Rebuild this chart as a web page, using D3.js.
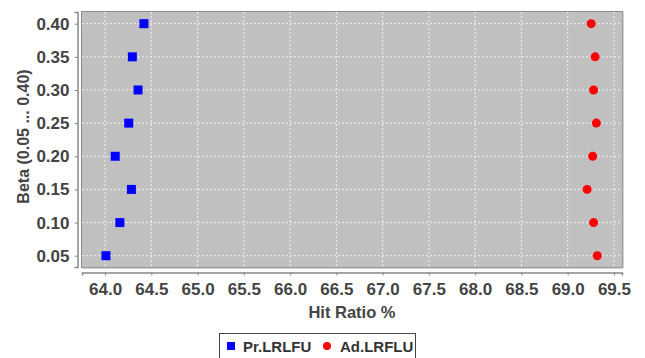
<!DOCTYPE html>
<html><head><meta charset="utf-8">
<script src="https://cdn.jsdelivr.net/npm/d3@7"></script>
<style>
body{margin:0;background:#fff;}
svg{display:block;font-family:"Liberation Sans",Arial,sans-serif;}
</style></head><body>
<svg id="c" width="645" height="358"></svg>
<script>
const betas = [0.40, 0.35, 0.30, 0.25, 0.20, 0.15, 0.10, 0.05];
const prLRLFU = [64.42, 64.295, 64.357, 64.256, 64.11, 64.285, 64.16, 64.01];
const adLRFLU = [69.254, 69.297, 69.28, 69.31, 69.27, 69.21, 69.28, 69.32];
const xTicks = [64.0,64.5,65.0,65.5,66.0,66.5,67.0,67.5,68.0,68.5,69.0,69.5];
const yTicks = [0.05,0.10,0.15,0.20,0.25,0.30,0.35,0.40];
const seriesNames = ["Pr.LRLFU","Ad.LRFLU"];

const svg = d3.select("#c");
const L=82, R=622, T=12, B=267;
const x = d3.scaleLinear().domain([63.751, 69.587]).range([L,R]);
const y = d3.scaleLinear().domain([0.033, 0.4176]).range([B,T]);

svg.append("rect").attr("x",L).attr("y",T).attr("width",R-L).attr("height",B-T)
  .attr("fill","#c0c0c0");
const g = svg.append("g");
g.selectAll(".gx").data(xTicks).join("line")
  .attr("x1",d=>x(d)).attr("x2",d=>x(d)).attr("y1",T).attr("y2",B)
  .attr("stroke","#f0f0f0").attr("stroke-width",1).attr("stroke-dasharray","2,2");
g.selectAll(".gy").data(yTicks).join("line")
  .attr("y1",d=>y(d)).attr("y2",d=>y(d)).attr("x1",L).attr("x2",R)
  .attr("stroke","#f0f0f0").attr("stroke-width",1).attr("stroke-dasharray","2,2");
svg.append("rect").attr("x",L-0.5).attr("y",T-0.5).attr("width",R-L+1).attr("height",B-T+1)
  .attr("fill","none").attr("stroke","#8c8c8c").attr("stroke-width",1);
svg.append("line").attr("x1",R+1).attr("x2",R+1).attr("y1",T).attr("y2",B+1).attr("stroke","#a8a8a8");
svg.append("line").attr("x1",L).attr("x2",R+1).attr("y1",B+1).attr("y2",B+1).attr("stroke","#a8a8a8");

const xAxis = d3.axisBottom(x).tickValues(xTicks).tickFormat(d3.format(".1f")).tickSize(3).tickPadding(7);
const yAxis = d3.axisLeft(y).tickValues(yTicks).tickFormat(d3.format(".2f")).tickSize(3).tickPadding(5);
const gx = svg.append("g").attr("transform",`translate(0,${B+5.5})`).call(xAxis);
const gy = svg.append("g").attr("transform",`translate(${L-4.5},0)`).call(yAxis);
[gx,gy].forEach(a=>{
  a.select(".domain").attr("stroke","#888").attr("stroke-width",1.5);
  a.selectAll(".tick line").attr("stroke","#888");
  a.selectAll(".tick text").attr("fill","#444").attr("font-size",17).attr("font-weight","bold");
});

svg.append("text").attr("x",(L+R)/2).attr("y",318).attr("text-anchor","middle")
  .attr("font-size",16.5).attr("font-weight","bold").attr("fill","#444").text("Hit Ratio %");
svg.append("text").attr("transform",`translate(29,${(T+B)/2-3}) rotate(-90)`).attr("text-anchor","middle")
  .attr("font-size",16).attr("font-weight","bold").attr("fill","#444").text("Beta (0.05 ... 0.40)");

const s = 9;
svg.append("g").selectAll("rect").data(betas).join("rect")
  .attr("x",(d,i)=>x(prLRLFU[i])-s/2).attr("y",d=>y(d)-s/2)
  .attr("width",s).attr("height",s).attr("fill","#0000ff");
svg.append("g").selectAll("circle").data(betas).join("circle")
  .attr("cx",(d,i)=>x(adLRFLU[i])).attr("cy",d=>y(d)).attr("r",4.5).attr("fill","#ff0000");

const lg = svg.append("g");
lg.append("rect").attr("x",219.5).attr("y",333.5).attr("width",196).attr("height",30)
  .attr("fill","#fff").attr("stroke","#444").attr("stroke-width",1);
lg.append("rect").attr("x",227).attr("y",342).attr("width",8).attr("height",8).attr("fill","#0000ff");
lg.append("text").attr("x",243).attr("y",352).attr("font-size",15).attr("font-weight","bold")
  .attr("fill","#333").text(seriesNames[0]);
lg.append("circle").attr("cx",327).attr("cy",346).attr("r",4).attr("fill","#ff0000");
lg.append("text").attr("x",340).attr("y",352).attr("font-size",15).attr("font-weight","bold")
  .attr("fill","#333").text(seriesNames[1]);
</script>
</body></html>
